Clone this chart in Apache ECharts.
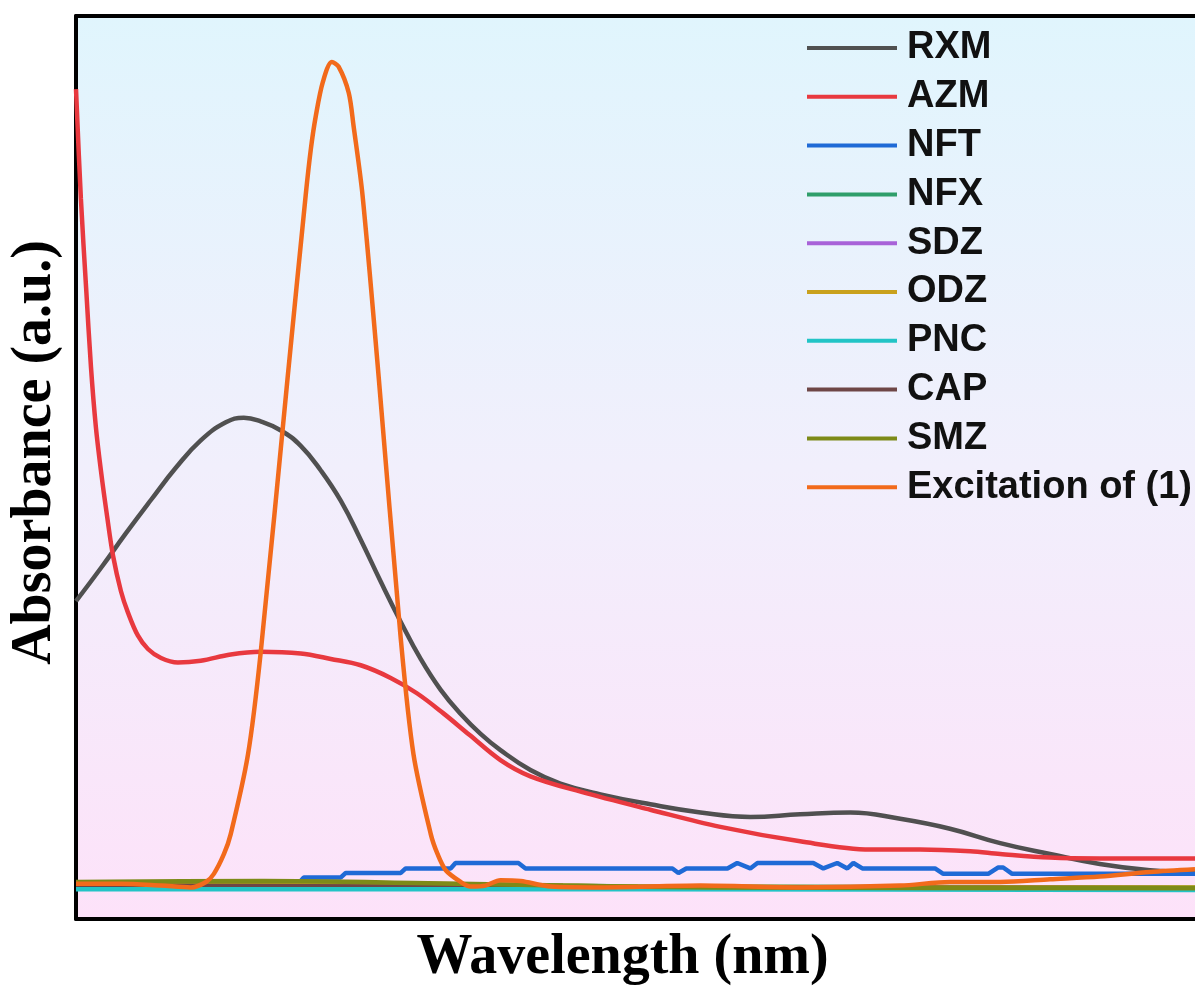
<!DOCTYPE html>
<html>
<head>
<meta charset="utf-8">
<style>
  html, body { margin: 0; padding: 0; background: #ffffff; }
  #chart { width: 1195px; height: 992px; }
</style>
<script src="https://cdn.jsdelivr.net/npm/echarts@6/dist/echarts.min.js"></script>
</head>
<body>
<div id="chart"></div>
<script>
// ---- data: [wavelength (nm), absorbance (a.u., normalised)] ----
const seriesNames = ['RXM', 'AZM', 'NFT', 'NFX', 'SDZ', 'ODZ', 'PNC', 'CAP', 'SMZ', 'Excitation of (1)'];

const RXM = [[250,0.352],[256.7,0.389],[263.3,0.427],[270,0.464],[276.7,0.500],[283.3,0.530],[290,0.550],[294.8,0.555],[299.3,0.551],[304.7,0.541],[310,0.524],[315.3,0.497],[320.7,0.463],[326,0.420],[331.3,0.374],[336.7,0.329],[342,0.288],[347.3,0.254],[352.7,0.227],[358,0.205],[363.3,0.187],[371.3,0.165],[379.3,0.150],[390,0.138],[403.3,0.127],[416.7,0.118],[430,0.113],[443.3,0.116],[456.7,0.118],[470,0.111],[483.3,0.100],[496.7,0.084],[510,0.072],[523.3,0.061],[536.7,0.054],[548.7,0.052]];

const AZM = [[250,0.919],[251.3,0.798],[252.7,0.699],[254,0.611],[255.3,0.545],[256.7,0.495],[258.3,0.446],[259.9,0.402],[262,0.363],[263.9,0.339],[266.5,0.314],[269.2,0.299],[272.7,0.289],[277.2,0.284],[283.3,0.286],[291.3,0.293],[299.3,0.296],[310,0.294],[318,0.288],[326,0.281],[334,0.267],[341,0.250],[348,0.228],[355,0.204],[363.3,0.176],[371.3,0.158],[384.7,0.141],[403.3,0.121],[422,0.102],[443.3,0.086],[462,0.077],[475.3,0.077],[488.7,0.075],[496.7,0.072],[510,0.068],[523.3,0.067],[548.7,0.067]];

const NFT = [[250,0.040],[309.5,0.040],[310.8,0.046],[320.7,0.046],[322,0.051],[336.7,0.051],[338,0.056],[350,0.056],[351.3,0.062],[368.1,0.062],[370,0.056],[409.2,0.056],[410.8,0.051],[412.9,0.056],[423.9,0.056],[426.5,0.062],[430,0.056],[431.9,0.062],[446.8,0.062],[449.5,0.056],[453.2,0.062],[455.9,0.056],[457.5,0.062],[459.9,0.056],[479.3,0.056],[481.5,0.050],[493.5,0.050],[496.1,0.057],[497.5,0.057],[499.9,0.050],[548.7,0.050]];

const NFX = [[250,0.039],[320,0.039],[400,0.036],[548.7,0.035]];
const SDZ = [[250,0.038],[320,0.038],[400,0.035],[548.7,0.034]];
const ODZ = [[250,0.040],[320,0.040],[400,0.036],[548.7,0.035]];
const PNC = [[250,0.033],[320,0.033],[400,0.033],[548.7,0.032]];
const CAP = [[250,0.037],[330,0.036],[400,0.035],[548.7,0.034]];
const SMZ = [[250,0.041],[300,0.042],[340,0.040],[380,0.037],[420,0.035],[548.7,0.034]];

const EXC = [[250,0.039],[262,0.039],[272.7,0.037],[280.7,0.035],[284.7,0.041],[286.8,0.050],[289.5,0.072],[291.3,0.094],[295.9,0.182],[299.3,0.295],[306.5,0.600],[311.3,0.801],[312.7,0.853],[314,0.889],[315.9,0.927],[318.3,0.949],[320.1,0.944],[322.8,0.915],[324.1,0.878],[326.5,0.801],[330.8,0.600],[336.7,0.310],[340.1,0.182],[344.7,0.094],[346.5,0.072],[348.7,0.054],[352.7,0.041],[355.3,0.036],[359.3,0.037],[363.3,0.043],[368.7,0.042],[376.7,0.036],[390,0.035],[416.7,0.037],[443.3,0.035],[470,0.037],[483.3,0.041],[496.7,0.041],[510,0.044],[523.3,0.047],[536.7,0.052],[548.7,0.055]];

const seriesData = [RXM, AZM, NFT, NFX, SDZ, ODZ, PNC, CAP, SMZ, EXC];
const seriesColors = ['#505050', '#e8393f', '#1f6ad6', '#2f9e6a', '#a862d8', '#c9a11d', '#22c4c6', '#6e4646', '#7d8a18', '#f26a1b'];
const smoothFlags = [0.45, 0.35, false, 0.3, 0.3, 0.3, 0.3, 0.3, 0.3, 0.3];
// drawing order (later drawn on top)
const drawOrder = [0, 1, 2, 3, 4, 5, 7, 6, 8, 9];

const chart = echarts.init(document.getElementById('chart'), null, { renderer: 'canvas' });

const series = drawOrder.map(function (i, k) {
  return {
    name: seriesNames[i],
    type: 'line',
    data: seriesData[i],
    showSymbol: false,
    smooth: smoothFlags[i],
    z: 2 + k,
    color: seriesColors[i],
    lineStyle: { width: 4.5, color: seriesColors[i] },
    emphasis: { disabled: true }
  };
});

const frameLine = { show: true, lineStyle: { color: '#000000', width: 4 } };
const titleFont = {
  fontFamily: 'Liberation Serif, Times New Roman, serif',
  fontWeight: 'bold',
  fontSize: 56,
  lineHeight: 56,
  color: '#000000'
};

chart.setOption({
  animation: false,
  backgroundColor: '#ffffff',
  grid: {
    left: 76, right: 0, top: 16, bottom: 67,
    show: true,
    borderWidth: 0,
    backgroundColor: {
      type: 'linear', x: 0, y: 0, x2: 0, y2: 1,
      colorStops: [
        { offset: 0, color: '#e0f5fd' },
        { offset: 0.5, color: '#f1effc' },
        { offset: 1, color: '#fde2f9' }
      ]
    }
  },
  legend: {
    data: seriesNames,
    orient: 'vertical',
    left: 807,
    top: 28,
    padding: 0,
    itemWidth: 90,
    itemHeight: 4,
    itemGap: 8.8,
    icon: 'rect',
    selectedMode: false,
    textStyle: {
      fontFamily: 'Liberation Sans, Arial, sans-serif',
      fontWeight: 'bold',
      fontSize: 38,
      lineHeight: 40,
      color: '#111111',
      padding: [0, 0, 0, 5]
    }
  },
  xAxis: [{
    type: 'value',
    position: 'bottom',
    min: 250,
    max: 548.7,
    axisLine: frameLine,
    axisTick: { show: false },
    axisLabel: { show: false },
    splitLine: { show: false },
    name: 'Wavelength (nm)',
    nameLocation: 'middle',
    nameGap: 12,
    nameTextStyle: Object.assign({}, titleFont, { padding: [0, 26, 0, 0] })
  }, {
    type: 'value',
    position: 'top',
    min: 250,
    max: 548.7,
    axisLine: frameLine,
    axisTick: { show: false },
    axisLabel: { show: false },
    splitLine: { show: false }
  }],
  yAxis: {
    type: 'value',
    min: 0,
    max: 1,
    axisLine: frameLine,
    axisTick: { show: false },
    axisLabel: { show: false },
    splitLine: { show: false },
    name: 'Absorbance (a.u.)',
    nameLocation: 'middle',
    nameGap: 12,
    nameTextStyle: Object.assign({}, titleFont, { padding: [0, 0, 0, 30] })
  },
  series: series
});
</script>
</body>
</html>
